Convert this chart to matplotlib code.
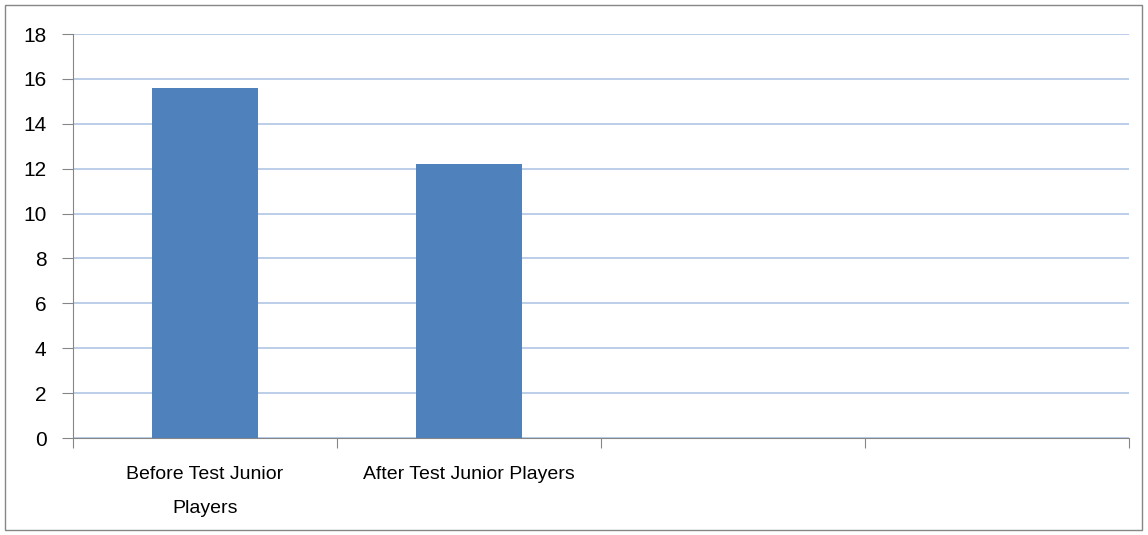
import numpy as np
import matplotlib
matplotlib.use('Agg')
import matplotlib.pyplot as plt
from matplotlib.patches import Rectangle

categories = ['Before Test Junior\nPlayers', 'After Test Junior Players', '', '']
values = [15.6, 12.2, 0, 0]
yticks = [0, 2, 4, 6, 8, 10, 12, 14, 16, 18]

plt.rcParams['font.family'] = ['Liberation Sans', 'DejaVu Sans']

fig = plt.figure(figsize=(11.48, 5.35), dpi=100)
ax = fig.add_axes([73 / 1148, 1 - 438 / 535, (1129 - 73) / 1148, (438 - 34) / 535])

x = np.arange(len(categories))
ax.bar(x[:2], values[:2], width=0.4, color='#4F81BD', zorder=3)

ax.set_xlim(-0.5, len(categories) - 0.5)
ax.set_ylim(0, 18)
ax.set_yticks(yticks)
ax.tick_params(axis='y', labelsize=15, length=8, color='#868686', pad=11)
ax.yaxis.grid(True, color='#A9C0E3', linewidth=1.1, zorder=0)

ax.set_xticks(np.arange(-0.5, len(categories)), labels=[''] * (len(categories) + 1))
ax.tick_params(axis='x', which='major', length=7, color='#868686')
ax.set_xticks(x, labels=categories, minor=True, linespacing=2.3)
ax.tick_params(axis='x', which='minor', length=0, labelsize=14, pad=20)

for s in ['top', 'right']:
    ax.spines[s].set_visible(False)
for s in ['left', 'bottom']:
    ax.spines[s].set_color('#868686')

fig.patches.append(Rectangle((5 / 1148, 5 / 535), 1137 / 1148, 525 / 535,
                             transform=fig.transFigure, fill=False,
                             edgecolor='#868686', linewidth=1))

fig.savefig('out.png', dpi=100)
